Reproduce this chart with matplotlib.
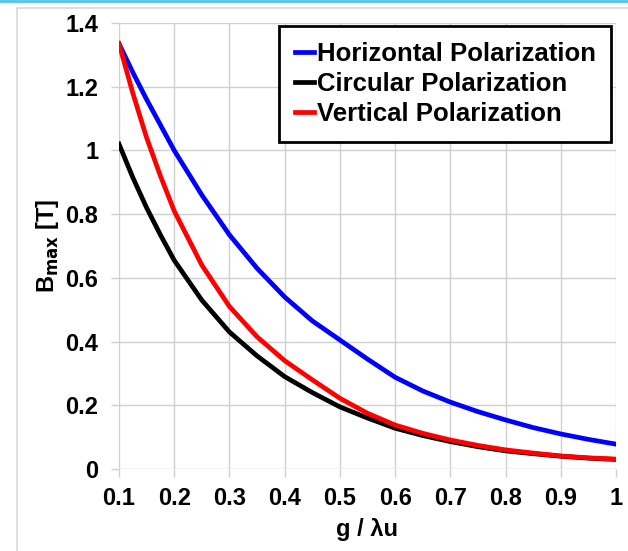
import numpy as np
import matplotlib
matplotlib.use("Agg")
import matplotlib.pyplot as plt
from matplotlib.lines import Line2D

# g / lambda_u sample points
gap = [0.100, 0.125, 0.150, 0.175, 0.20, 0.25, 0.30, 0.35, 0.40, 0.45, 0.50, 0.55,
       0.60, 0.65, 0.70, 0.75, 0.80, 0.85, 0.90, 0.95, 1.00]
b_horizontal = [1.335, 1.245, 1.16, 1.08, 1.00, 0.86, 0.735, 0.63, 0.54, 0.465, 0.405, 0.345,
                0.288, 0.245, 0.21, 0.18, 0.154, 0.13, 0.11, 0.093, 0.078]
b_circular = [1.02, 0.915, 0.82, 0.735, 0.655, 0.53, 0.43, 0.355, 0.29, 0.24, 0.195, 0.16,
              0.128, 0.105, 0.086, 0.07, 0.057, 0.048, 0.04, 0.034, 0.03]
b_vertical = [1.335, 1.18, 1.04, 0.92, 0.81, 0.64, 0.51, 0.415, 0.34, 0.28, 0.222, 0.175,
              0.138, 0.112, 0.091, 0.074, 0.06, 0.05, 0.041, 0.035, 0.031]

plt.rcParams["font.family"] = ["Liberation Sans", "DejaVu Sans"]
plt.rcParams["font.weight"] = "bold"

fig = plt.figure(figsize=(6.28, 5.51), dpi=100)
ax = fig.add_axes([119 / 628, 1 - 469 / 551, 497 / 628, 446 / 551])

ax.plot(gap, b_horizontal, color="#0000ff", lw=3.4, label="Horizontal Polarization")
ax.plot(gap, b_circular, color="black", lw=3.4, label="Circular Polarization")
ax.plot(gap, b_vertical, color="#ff0000", lw=3.4, label="Vertical Polarization")

ax.set_xlim(0.1, 1.0)
ax.set_ylim(0, 1.4)
ax.set_xticks(np.arange(0.1, 1.01, 0.1))
ax.set_xticklabels(["0.1", "0.2", "0.3", "0.4", "0.5", "0.6", "0.7", "0.8", "0.9", "1"])
ax.set_yticks(np.arange(0, 1.41, 0.2))
ax.set_yticklabels(["0", "0.2", "0.4", "0.6", "0.8", "1", "1.2", "1.4"])
ax.grid(color="#d0d0d0", lw=1)
ax.set_axisbelow(True)
for sp in ax.spines.values():
    sp.set_visible(False)
ax.tick_params(length=6, color="#d0d0d0", width=1, labelsize=17)
ax.tick_params(axis="x", pad=7)
ax.tick_params(axis="y", pad=9)
for t in ax.get_xticklabels() + ax.get_yticklabels():
    t.set_fontweight("bold")

ax.set_xlabel("g / λu", fontsize=17, fontweight="bold", labelpad=6)
ax.set_ylabel(r"B$_{\mathbf{max}}$ [T]", fontsize=17, fontweight="bold", labelpad=3)

leg = ax.legend(loc="upper right", bbox_to_anchor=(0.99, 0.993), fontsize=18.5,
                handlelength=0.75, handletextpad=0.1, borderpad=0.6,
                labelspacing=0.25, fancybox=False, framealpha=1,
                edgecolor="black", borderaxespad=0)
leg.get_frame().set_linewidth(2)
for t in leg.get_texts():
    t.set_fontweight("bold")

# page decorations: cyan rule on top, light border of the chart area
fig.add_artist(Line2D([0, 1], [1 - 1 / 551, 1 - 1 / 551], color="#4fc3f7", lw=2,
                      transform=fig.transFigure))
fig.add_artist(Line2D([17 / 628, 17 / 628, 1], [0, 1 - 8 / 551, 1 - 8 / 551],
                      color="#d8d8d8", lw=1.2, transform=fig.transFigure))

fig.savefig("out.png", dpi=100)
